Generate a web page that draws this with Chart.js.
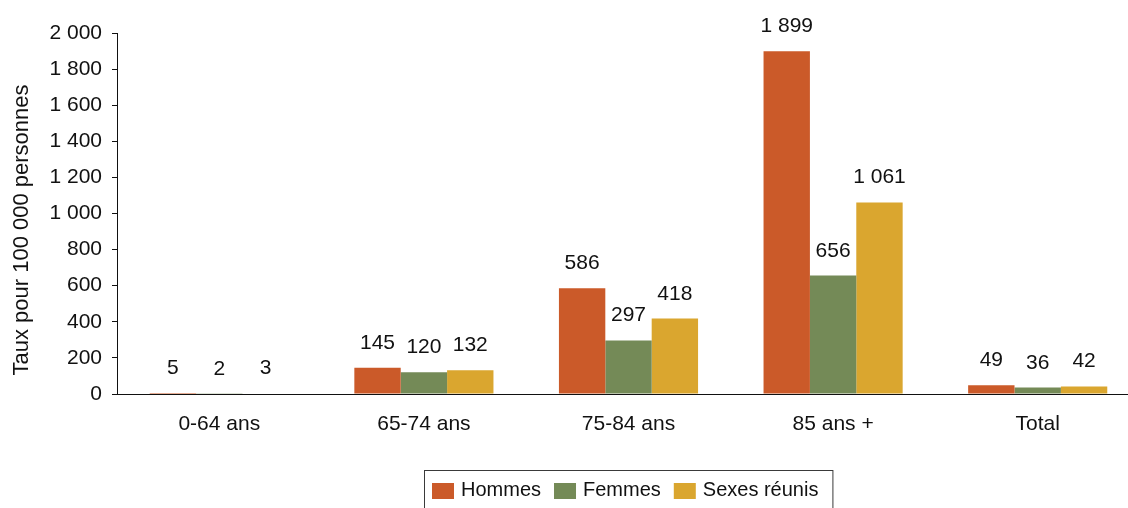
<!DOCTYPE html>
<html lang="fr">
<head>
<meta charset="utf-8">
<title>Taux pour 100 000 personnes</title>
<script src="https://cdn.jsdelivr.net/npm/chart.js@4.4.1/dist/chart.umd.min.js"></script>
<style>
  html, body { margin: 0; padding: 0; background: #fff; overflow: hidden; }
  #wrap { position: relative; width: 1140px; height: 508px; }
</style>
</head>
<body>
<div id="wrap"><canvas id="chart"></canvas></div>
<script>
// Age groups on the x axis
const categories = ['0-64 ans', '65-74 ans', '75-84 ans', '85 ans +', 'Total'];

// Rates per 100 000 persons
const hommes = [5, 145, 586, 1899, 49];
const femmes = [2, 120, 297, 656, 36];
const sexesReunis = [3, 132, 418, 1061, 42];

const seriesNames = ['Hommes', 'Femmes', 'Sexes réunis'];
const seriesColors = ['#CB5A29', '#748A57', '#DAA62F'];

// Y axis ticks
const yTicks = [0, 200, 400, 600, 800, 1000, 1200, 1400, 1600, 1800, 2000];
const yTitle = 'Taux pour 100 000 personnes';

const FONT = '"Liberation Sans", Arial, Helvetica, sans-serif';
const INK = '#111111';

// French-style thousands separator: 1899 -> "1 899"
function fmt(v) {
  return String(Math.round(v)).replace(/\B(?=(\d{3})+(?!\d))/g, ' ');
}

// Value labels above each bar
const valueLabels = {
  id: 'valueLabels',
  afterDatasetsDraw(chart) {
    const ctx = chart.ctx;
    ctx.save();
    ctx.font = '21px ' + FONT;
    ctx.fillStyle = INK;
    ctx.textAlign = 'center';
    ctx.textBaseline = 'alphabetic';
    chart.data.datasets.forEach((ds, i) => {
      chart.getDatasetMeta(i).data.forEach((bar, j) => {
        ctx.fillText(fmt(ds.data[j]), bar.x, bar.y - 19);
      });
    });
    ctx.restore();
  }
};

// Rotated y-axis title
const axisTitle = {
  id: 'axisTitle',
  afterDraw(chart) {
    const ctx = chart.ctx;
    ctx.save();
    ctx.translate(22, 230);
    ctx.rotate(-Math.PI / 2);
    ctx.font = '22px ' + FONT;
    ctx.fillStyle = INK;
    ctx.textAlign = 'center';
    ctx.textBaseline = 'middle';
    ctx.fillText(yTitle, 0, 0);
    ctx.restore();
  }
};

// Boxed legend centred under the plot area
const boxLegend = {
  id: 'boxLegend',
  afterDraw(chart) {
    const ctx = chart.ctx;
    const area = chart.chartArea;
    ctx.save();
    ctx.font = '20px ' + FONT;
    const sw = 22, sh = 16, gapText = 7, gapItem = 13, padL = 8, padR = 14;
    const items = chart.data.datasets.map(ds => ({ label: ds.label, color: ds.backgroundColor, w: ctx.measureText(ds.label).width }));
    let total = padL + padR;
    items.forEach((it, k) => { total += sw + gapText + it.w + (k < items.length - 1 ? gapItem : 0); });
    const cx = (area.left + area.right) / 2;
    const left = Math.round(cx - total / 2) + 0.5;
    const top = 470.5;
    ctx.strokeStyle = '#3a3a3a';
    ctx.lineWidth = 1;
    ctx.strokeRect(left, top, total, 60);
    let x = left - 0.5 + padL;
    const midY = 490;
    items.forEach(it => {
      ctx.fillStyle = it.color;
      ctx.fillRect(x, midY - sh / 2 + 1, sw, sh);
      x += sw + gapText;
      ctx.fillStyle = INK;
      ctx.textAlign = 'left';
      ctx.textBaseline = 'middle';
      ctx.fillText(it.label, x, midY);
      x += it.w + gapItem;
    });
    ctx.restore();
  }
};

const datasets = [hommes, femmes, sexesReunis].map((data, i) => ({
  label: seriesNames[i],
  data: data,
  backgroundColor: seriesColors[i],
  borderWidth: 0,
  barPercentage: 1,
  categoryPercentage: 0.68
}));

new Chart(document.getElementById('chart'), {
  type: 'bar',
  data: { labels: categories, datasets: datasets },
  options: {
    responsive: true,
    maintainAspectRatio: false,
    animation: false,
    layout: { padding: { top: 33, left: 0, right: 0, bottom: 0 } },
    plugins: {
      legend: { display: false },
      tooltip: { enabled: false }
    },
    scales: {
      x: {
        grid: { display: false, drawTicks: false },
        border: { display: true, color: '#111', width: 1 },
        ticks: { color: INK, font: { family: FONT, size: 21 }, padding: 18 },
        afterFit(scale) { scale.height = 114; }
      },
      y: {
        min: 0,
        max: 2000,
        afterBuildTicks(scale) { scale.ticks = yTicks.map(v => ({ value: v })); },
        grid: { drawOnChartArea: false, drawTicks: true, tickLength: 5, color: '#111' },
        border: { display: true, color: '#111', width: 1 },
        ticks: { color: INK, font: { family: FONT, size: 21 }, padding: 10, callback: v => fmt(v) },
        afterFit(scale) { scale.width = 117; }
      }
    }
  },
  plugins: [valueLabels, axisTitle, boxLegend]
});
</script>
</body>
</html>
